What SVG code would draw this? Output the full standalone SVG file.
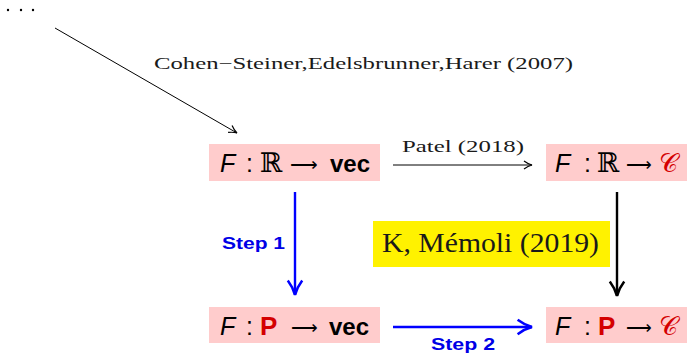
<svg xmlns="http://www.w3.org/2000/svg" width="687" height="355" viewBox="0 0 687 355">
<style>
.box{fill:#ffcccc}
.m{font-family:"Liberation Sans","DejaVu Sans",sans-serif;font-size:25px;fill:#000}
.it{font-style:italic}
.b{font-weight:bold}
.red{fill:#d40000}
.sr{font-family:"Liberation Serif","DejaVu Serif",serif}
.ar{font-family:"DejaVu Sans",sans-serif;font-size:20px;font-weight:200}
.lbl{font-family:"Liberation Serif","DejaVu Serif",serif;fill:#1a1a1a}
.step{font-family:"Liberation Sans","DejaVu Sans",sans-serif;font-weight:bold;font-size:16px;fill:#0000e6}
</style>
<defs>
<marker id="ah" viewBox="0 0 10 10" refX="9" refY="5" markerWidth="10" markerHeight="10" markerUnits="userSpaceOnUse" orient="auto"><path d="M1,1 Q5,4 9,5 Q5,6 1,9" fill="none" stroke="#000" stroke-width="1.2"/></marker>
<marker id="ahb" viewBox="0 0 10 10" refX="9" refY="5" markerWidth="18" markerHeight="18" markerUnits="userSpaceOnUse" orient="auto"><path d="M1,1 Q5,4 9,5 Q5,6 1,9" fill="none" stroke="#0000ff" stroke-width="1.4"/></marker>
<marker id="ahk" viewBox="0 0 10 10" refX="9" refY="5" markerWidth="18" markerHeight="18" markerUnits="userSpaceOnUse" orient="auto"><path d="M1,1 Q5,4 9,5 Q5,6 1,9" fill="none" stroke="#000" stroke-width="1.4"/></marker>
</defs>
<g id="dots" fill="#000"><circle cx="8" cy="10" r="1.2"/><circle cx="21" cy="10" r="1.2"/><circle cx="33" cy="10" r="1.2"/></g>
<g id="connectors">
<line x1="55" y1="28" x2="237" y2="133" stroke="#000" stroke-width="1" marker-end="url(#ah)"/>
<text class="lbl" x="154" y="69" font-size="17" textLength="419" lengthAdjust="spacingAndGlyphs">Cohen−Steiner,Edelsbrunner,Harer  (2007)</text>
<line x1="393" y1="165" x2="532" y2="165" stroke="#000" stroke-width="1" marker-end="url(#ah)"/>
<text class="lbl" x="402" y="152" font-size="17" textLength="122" lengthAdjust="spacingAndGlyphs">Patel  (2018)</text>
<line x1="295" y1="192" x2="295" y2="295" stroke="#0000ff" stroke-width="2.4" marker-end="url(#ahb)"/>
<text class="step" x="222" y="249" textLength="63" lengthAdjust="spacingAndGlyphs">Step  1</text>
<line x1="617" y1="192" x2="617" y2="296" stroke="#000" stroke-width="2.4" marker-end="url(#ahk)"/>
<line x1="393" y1="327" x2="532" y2="327" stroke="#0000ff" stroke-width="2.4" marker-end="url(#ahb)"/>
<text class="step" x="431" y="350" textLength="64" lengthAdjust="spacingAndGlyphs">Step  2</text>
</g>
<g id="kmemoli">
<rect x="373" y="221" width="237" height="46" fill="#fff200"/>
<text class="lbl" x="382" y="252" font-size="28" fill="#000" textLength="217" lengthAdjust="spacingAndGlyphs">K, Mémoli (2019)</text>
</g>
<g id="n1">
<rect class="box" x="209" y="144" width="171" height="37"/>
<text class="m" y="172"><tspan class="it" x="220">F</tspan><tspan x="246">:</tspan><tspan class="sr" x="260" font-size="27">ℝ</tspan><tspan class="b" x="330" font-size="24">vec</tspan></text>
<text class="ar" x="290" y="171" textLength="28" lengthAdjust="spacingAndGlyphs">⟶</text>
</g>
<g id="n2">
<rect class="box" x="546" y="144" width="141" height="37"/>
<text class="m" y="172"><tspan class="it" x="555">F</tspan><tspan x="584">:</tspan><tspan class="sr" x="597" font-size="27">ℝ</tspan><tspan class="red sr" x="659" font-size="26">𝒞</tspan></text>
<text class="ar" x="626" y="171" textLength="26" lengthAdjust="spacingAndGlyphs">⟶</text>
</g>
<g id="n3">
<rect class="box" x="209" y="307" width="171" height="36"/>
<text class="m" y="335"><tspan class="it" x="220">F</tspan><tspan x="246">:</tspan><tspan class="b red" x="260" font-size="26">P</tspan><tspan class="b" x="329" font-size="24">vec</tspan></text>
<text class="ar" x="291" y="334" textLength="27" lengthAdjust="spacingAndGlyphs">⟶</text>
</g>
<g id="n4">
<rect class="box" x="546" y="307" width="141" height="36"/>
<text class="m" y="335"><tspan class="it" x="555">F</tspan><tspan x="584">:</tspan><tspan class="b red" x="598" font-size="26">P</tspan><tspan class="red sr" x="659" font-size="26">𝒞</tspan></text>
<text class="ar" x="626" y="334" textLength="26" lengthAdjust="spacingAndGlyphs">⟶</text>
</g>
</svg>
